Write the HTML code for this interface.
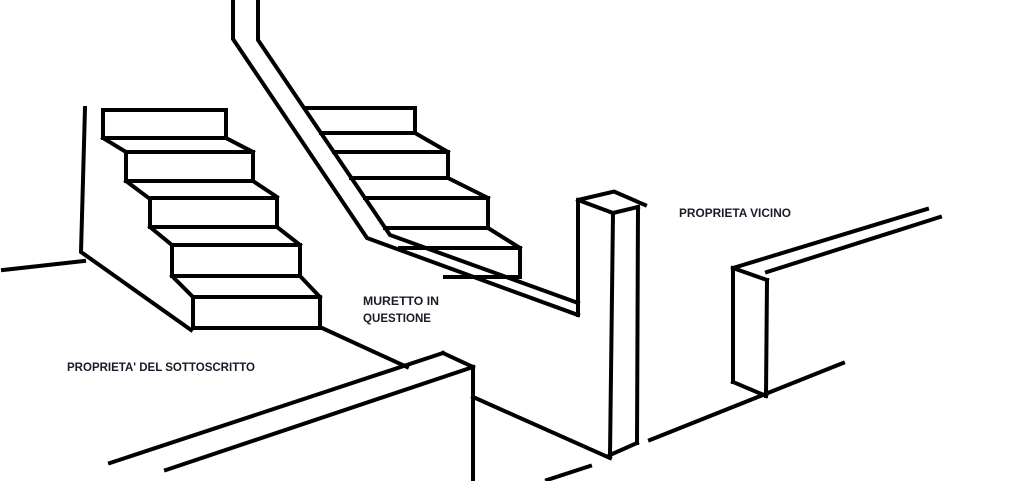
<!DOCTYPE html>
<html><head><meta charset="utf-8"><style>html,body{margin:0;padding:0;background:#fff}svg{display:block}</style></head>
<body>
<svg width="1024" height="481" viewBox="0 0 1024 481" xmlns="http://www.w3.org/2000/svg">
<g fill="none" stroke="#000" stroke-width="4" stroke-linejoin="miter" stroke-linecap="square">
<!-- left stairs -->
<polyline points="85,108 81,252 191,330"/>
<line x1="3" y1="270" x2="84" y2="261"/>
<rect x="103" y="110" width="123" height="28"/>
<line x1="103" y1="138" x2="126" y2="152"/><line x1="226" y1="138" x2="253" y2="152"/>
<rect x="126" y="152" width="127" height="29"/>
<line x1="126" y1="181" x2="150" y2="199"/><line x1="253" y1="181" x2="277" y2="197"/>
<rect x="150" y="198" width="127" height="29"/>
<line x1="150" y1="227" x2="172" y2="245"/><line x1="277" y1="227" x2="300" y2="245"/>
<rect x="172" y="245" width="128" height="31"/>
<line x1="172" y1="276" x2="193" y2="297"/><line x1="300" y1="276" x2="320" y2="297"/>
<rect x="193" y="297" width="127" height="31"/>
<line x1="322" y1="328" x2="407" y2="367"/>
<!-- railing -->
<polyline points="233,0 233,39 367,238 578,315"/>
<polyline points="258,0 258,40 390,235 578,303"/>
<!-- middle stairs -->
<polyline points="306,108 415,108 415,133 321,133"/>
<line x1="415" y1="133" x2="448" y2="152"/>
<polyline points="334,152 448,152 448,178 351,178"/>
<line x1="448" y1="178" x2="488" y2="198"/>
<polyline points="365,198 488,198 488,228 385,228"/>
<line x1="488" y1="228" x2="520" y2="248"/>
<polyline points="400,248 520,248 520,277 445,277"/>
<!-- pillar -->
<polyline points="578,315 578,200 612,192"/>
<line x1="615" y1="192" x2="645" y2="205"/>
<polyline points="578,200 613,213 638,207"/>
<line x1="613" y1="213" x2="610" y2="455"/>
<line x1="638" y1="207" x2="637" y2="443"/>
<line x1="610" y1="455" x2="637" y2="443"/>
<line x1="473" y1="397" x2="610" y2="458"/>
<!-- front wall -->
<line x1="110" y1="463" x2="443" y2="353"/>
<line x1="443" y1="353" x2="473" y2="367"/>
<line x1="166" y1="470" x2="473" y2="367"/>
<line x1="473" y1="367" x2="473" y2="481"/>
<line x1="547" y1="480" x2="590" y2="466"/>
<line x1="650" y1="440" x2="843" y2="363"/>
<!-- right wall -->
<line x1="733" y1="268" x2="927" y2="209"/>
<line x1="767" y1="272" x2="940" y2="217"/>
<line x1="733" y1="268" x2="767" y2="280"/>
<line x1="733" y1="268" x2="733" y2="382"/>
<line x1="767" y1="280" x2="766" y2="396"/>
<line x1="733" y1="382" x2="766" y2="396"/>
</g>
<g font-family="Liberation Sans, sans-serif" font-weight="bold" font-size="12" fill="#1a1a2a">
<text x="679" y="217" textLength="112" lengthAdjust="spacingAndGlyphs">PROPRIETA VICINO</text>
<text x="363" y="305" textLength="76" lengthAdjust="spacingAndGlyphs">MURETTO IN</text>
<text x="363" y="322" textLength="68" lengthAdjust="spacingAndGlyphs">QUESTIONE</text>
<text x="67" y="371" textLength="188" lengthAdjust="spacingAndGlyphs">PROPRIETA' DEL SOTTOSCRITTO</text>
</g>
</svg>
</body></html>
